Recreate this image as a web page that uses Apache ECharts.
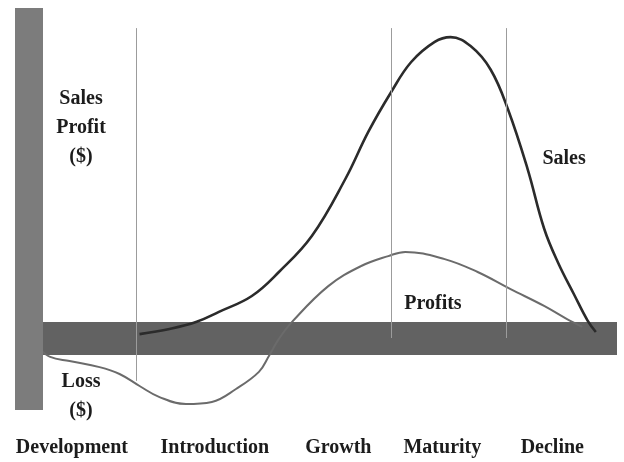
<!DOCTYPE html>
<html>
<head>
<meta charset="utf-8">
<script src="https://cdn.jsdelivr.net/npm/echarts@6/dist/echarts.min.js"></script>
<style>
  html, body { margin: 0; padding: 0; background: #ffffff; }
  #chart { width: 624px; height: 462px; }
</style>
</head>
<body>
<div id="chart"></div>
<script>
// Product life cycle: sales and profit over the stages of a product's life.
const stages = ['Development', 'Introduction', 'Growth', 'Maturity', 'Decline'];
const stageCenters = [7.3, 31.6, 52.6, 70.3, 89.0];
const stageBounds = [18.3, 61.6, 81.2];
const boundBottoms = [-14.3, 0, 0];
const boundTop = 103.3;

const salesX = [18.8, 23.9, 28.4, 32.3, 37.9, 42.5, 48.1, 53.8, 57.7, 61.6, 65.0, 69.0, 71.7, 75.1, 78.5, 81.5, 84.8, 87.6, 90.0, 92.7, 95.0, 96.4];
const salesY = [1.3, 3.0, 5.3, 8.7, 14.0, 22.0, 34.0, 53.0, 68.7, 82.0, 92.0, 98.7, 100.3, 97.3, 89.5, 76.0, 56.3, 36.5, 25.0, 14.5, 5.8, 2.0];

const profitX = [1.9, 3.6, 6.9, 12.0, 15.4, 18.8, 22.2, 26.7, 31.1, 35.2, 39.1, 40.8, 42.5, 44.7, 50.9, 56.5, 61.1, 64.0, 70.7, 76.3, 81.9, 87.6, 91.5, 94.1];
const profitY = [-3.7, -6.3, -7.7, -9.7, -12.0, -16.0, -19.7, -22.0, -21.3, -17.0, -11.3, -6.0, -0.3, 5.3, 17.3, 24.0, 27.3, 28.7, 26.3, 22.0, 16.3, 10.7, 6.3, 3.7];

const axisTexts = ['Sales\nProfit\n($)', 'Loss\n($)'];
const axisTextPos = [70.0, -19.6];

const zip = (xs, ys) => xs.map((x, i) => [x, ys[i]]);
const nearestIndex = (arr, v) => {
  let best = 0;
  arr.forEach((a, i) => { if (Math.abs(a - v) < Math.abs(arr[best] - v)) best = i; });
  return best;
};

const textFont = {
  fontFamily: 'Liberation Serif',
  fontWeight: 'bold',
  fontSize: 20,
  color: '#1c1c1c'
};

const chart = echarts.init(document.getElementById('chart'), null, { renderer: 'canvas' });

chart.setOption({
  animation: false,
  backgroundColor: '#ffffff',
  grid: { left: 29, right: 7, top: 8, bottom: 52, containLabel: false, outerBoundsMode: 'none' },
  xAxis: {
    type: 'value',
    min: 0,
    max: 100,
    z: 3,
    splitLine: { show: false },
    axisTick: { show: false },
    axisLine: { onZero: true, lineStyle: { color: '#626262', width: 33, cap: 'butt' } },
    axisLabel: {
      customValues: stageCenters,
      margin: 28,
      formatter: v => stages[nearestIndex(stageCenters, v)],
      ...textFont
    }
  },
  yAxis: {
    type: 'value',
    min: -24,
    max: 110,
    z: 4,
    splitLine: { show: false },
    axisTick: { show: false },
    axisLine: { lineStyle: { color: '#7c7c7c', width: 28, cap: 'butt' } },
    axisLabel: {
      customValues: axisTextPos,
      inside: true,
      margin: 52,
      align: 'center',
      lineHeight: 29,
      formatter: v => axisTexts[nearestIndex(axisTextPos, v)],
      ...textFont
    }
  },
  series: [
    {
      name: 'Sales',
      type: 'line',
      smooth: 0.4,
      symbol: 'none',
      data: zip(salesX, salesY),
      lineStyle: { color: '#2b2b2b', width: 2.6 },
      markLine: {
        silent: true,
        symbol: 'none',
        label: { show: false },
        lineStyle: { color: '#9c9c9c', width: 1, type: 'solid' },
        data: stageBounds.map((b, i) => [
          { coord: [b, boundTop] },
          { coord: [b, boundBottoms[i]] }
        ])
      },
      markPoint: {
        silent: true,
        symbolSize: 0,
        label: { show: true, position: 'inside', formatter: 'Sales', ...textFont },
        data: [{ coord: [91.0, 59.6] }]
      }
    },
    {
      name: 'Profits',
      type: 'line',
      smooth: 0.4,
      symbol: 'none',
      data: zip(profitX, profitY),
      lineStyle: { color: '#6b6b6b', width: 2 },
      markPoint: {
        silent: true,
        symbolSize: 0,
        label: { show: true, position: 'inside', formatter: 'Profits', ...textFont },
        data: [{ coord: [68.7, 11.5] }]
      }
    }
  ]
});
</script>
</body>
</html>
